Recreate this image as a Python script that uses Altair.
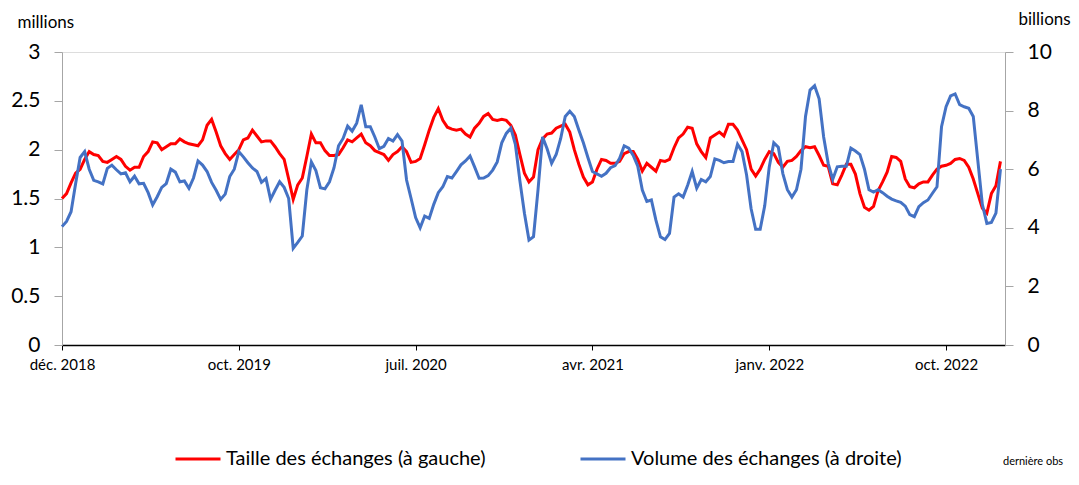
import json
import altair as alt
import pandas as pd

# ---- data (weekly, Dec. 2018 -> Jan. 2023) ----
SERIE_TAILLE = "Taille des échanges (à gauche)"
SERIE_VOLUME = "Volume des échanges (à droite)"

TAILLE = [  # millions (left axis)
    1.50, 1.55, 1.66, 1.76, 1.80, 1.90, 1.98, 1.95, 1.94, 1.88,
    1.87, 1.90, 1.93, 1.90, 1.83, 1.79, 1.82, 1.82, 1.93, 1.98,
    2.08, 2.07, 2.00, 2.03, 2.06, 2.06, 2.11, 2.08, 2.06, 2.05,
    2.04, 2.10, 2.25, 2.31, 2.18, 2.04, 1.96, 1.90, 1.95, 2.00,
    2.10, 2.12, 2.20, 2.14, 2.08, 2.09, 2.09, 2.03, 1.96, 1.90,
    1.70, 1.49, 1.64, 1.71, 1.93, 2.16, 2.07, 2.07, 1.99, 1.94,
    1.94, 1.95, 2.02, 2.10, 2.08, 2.12, 2.16, 2.07, 2.04, 1.99,
    1.97, 1.95, 1.89, 1.95, 1.98, 2.03, 1.98, 1.87, 1.88, 1.91,
    2.05, 2.20, 2.33, 2.42, 2.30, 2.23, 2.21, 2.20, 2.21, 2.16,
    2.13, 2.22, 2.27, 2.34, 2.37, 2.31, 2.30, 2.31, 2.30, 2.25,
    2.15, 1.95, 1.76, 1.67, 1.72, 2.00, 2.11, 2.16, 2.17, 2.22,
    2.24, 2.26, 2.18, 2.00, 1.85, 1.72, 1.64, 1.67, 1.80, 1.90,
    1.89, 1.86, 1.86, 1.88, 1.96, 1.98, 1.98, 1.90, 1.78, 1.86,
    1.82, 1.78, 1.89, 1.88, 1.90, 2.02, 2.12, 2.16, 2.23, 2.22,
    2.06, 1.98, 1.92, 2.12, 2.15, 2.18, 2.14, 2.26, 2.26, 2.20,
    2.10, 2.00, 1.80, 1.73, 1.80, 1.90, 1.98, 1.96, 1.87, 1.82,
    1.88, 1.89, 1.93, 1.99, 2.03, 2.02, 2.03, 1.94, 1.84, 1.83,
    1.65, 1.64, 1.74, 1.85, 1.85, 1.75, 1.55, 1.41, 1.38, 1.42,
    1.58, 1.67, 1.77, 1.93, 1.92, 1.88, 1.70, 1.62, 1.61, 1.65,
    1.67, 1.67, 1.74, 1.80, 1.83, 1.84, 1.86, 1.90, 1.91, 1.89,
    1.82, 1.70, 1.55, 1.40, 1.35, 1.55, 1.63, 1.88,
]

VOLUME = [  # billions (right axis)
    4.04, 4.22, 4.55, 5.50, 6.40, 6.60, 6.00, 5.62, 5.57, 5.50,
    6.03, 6.14, 5.98, 5.84, 5.88, 5.57, 5.76, 5.50, 5.52, 5.20,
    4.78, 5.06, 5.38, 5.51, 6.00, 5.90, 5.57, 5.60, 5.35, 5.70,
    6.28, 6.14, 5.92, 5.55, 5.28, 4.97, 5.15, 5.75, 6.00, 6.60,
    6.42, 6.22, 6.04, 5.92, 5.55, 5.68, 4.97, 5.28, 5.57, 5.38,
    5.00, 3.30, 3.50, 3.72, 5.29, 6.25, 5.95, 5.37, 5.33, 5.57,
    6.05, 6.80, 7.05, 7.47, 7.30, 7.57, 8.20, 7.45, 7.45, 7.10,
    6.70, 6.78, 7.05, 6.96, 7.18, 6.96, 5.63, 5.00, 4.35, 4.00,
    4.40, 4.32, 4.80, 5.20, 5.40, 5.75, 5.70, 5.92, 6.15, 6.28,
    6.45, 6.08, 5.69, 5.70, 5.78, 5.97, 6.25, 6.90, 7.22, 7.40,
    6.85, 5.60, 4.50, 3.58, 3.70, 5.30, 7.10, 6.70, 6.20, 6.50,
    7.05, 7.80, 7.98, 7.80, 7.34, 6.90, 6.40, 5.92, 5.84, 5.76,
    5.86, 6.05, 6.12, 6.37, 6.80, 6.72, 6.47, 6.10, 5.29, 4.90,
    4.95, 4.26, 3.69, 3.60, 3.81, 5.05, 5.16, 5.05, 5.45, 5.92,
    5.35, 5.65, 5.57, 5.75, 6.35, 6.30, 6.22, 6.26, 6.26, 6.85,
    6.60, 5.80, 4.65, 3.95, 3.95, 4.75, 6.08, 6.90, 6.75, 5.85,
    5.30, 5.05, 5.30, 6.00, 7.80, 8.70, 8.85, 8.40, 7.10, 6.20,
    5.65, 6.08, 6.10, 6.10, 6.72, 6.62, 6.50, 6.00, 5.30, 5.22,
    5.30, 5.20, 5.08, 4.98, 4.92, 4.87, 4.74, 4.45, 4.38, 4.72,
    4.86, 4.95, 5.18, 5.40, 7.45, 8.13, 8.50, 8.57, 8.20, 8.13,
    8.08, 7.80, 6.30, 4.80, 4.15, 4.18, 4.50, 6.00,
]

SEMAINES = list(range(len(TAILLE)))

TICK_POS = [0, 39, 78, 117, 156, 195]
TICK_LABELS = ["déc. 2018", "oct. 2019", "juil. 2020", "avr. 2021", "janv. 2022", "oct. 2022"]

LEFT_TICKS = [0, 0.5, 1, 1.5, 2, 2.5, 3]
RIGHT_TICKS = [0, 2, 4, 6, 8, 10]

NOTE = "dernière obs"

RED = "#ff0000"
BLUE = "#4472c4"
FONT = "Lato"

df = pd.DataFrame({
    "semaine": SEMAINES + SEMAINES,
    "serie": [SERIE_TAILLE] * len(TAILLE) + [SERIE_VOLUME] * len(VOLUME),
    "valeur": TAILLE + VOLUME,
})

label_expr = f"{json.dumps(TICK_LABELS, ensure_ascii=False)}[indexof({json.dumps(TICK_POS)}, datum.value)]"

x_enc = alt.X(
    "semaine:Q",
    scale=alt.Scale(domain=[0, 208], nice=False, zero=False),
    axis=alt.Axis(
        values=TICK_POS, labelExpr=label_expr, title=None, grid=False,
        domainColor="#000000", domainWidth=1.5, tickColor="#000000", tickSize=5,
        labelFontSize=15, labelFont=FONT, labelColor="#000000", labelPadding=7,
        labelFlush=False, labelOverlap=False,
    ),
)

color_enc = alt.Color(
    "serie:N",
    scale=alt.Scale(domain=[SERIE_TAILLE, SERIE_VOLUME], range=[RED, BLUE]),
    legend=alt.Legend(
        title=None, orient="none", legendX=112, legendY=383, direction="horizontal",
        symbolType="stroke", symbolStrokeWidth=3, symbolSize=2025,
        labelFontSize=20, labelFont=FONT, labelColor="#000000", labelOffset=4,
        columnPadding=88, padding=0, labelLimit=400,
    ),
)

red = alt.Chart(df).transform_filter(
    alt.datum.serie == SERIE_TAILLE
).mark_line(strokeWidth=3).encode(
    x=x_enc,
    y=alt.Y(
        "valeur:Q",
        scale=alt.Scale(domain=[0, 3], nice=False),
        axis=alt.Axis(
            orient="left", values=LEFT_TICKS, format=".1~f", grid=False,
            domainColor="#a6a6a6", tickColor="#a6a6a6", tickSize=8,
            labelFontSize=21, labelFont=FONT, labelColor="#000000", labelPadding=14,
            title="millions", titleAngle=0, titleX=-45, titleY=-30, titleAlign="left",
            titleBaseline="middle", titleFontSize=17, titleFont=FONT,
            titleFontWeight="normal", titleColor="#000000",
        ),
    ),
    color=color_enc,
)

blue = alt.Chart(df).transform_filter(
    alt.datum.serie == SERIE_VOLUME
).mark_line(strokeWidth=3).encode(
    x=x_enc,
    y=alt.Y(
        "valeur:Q",
        scale=alt.Scale(domain=[0, 10], nice=False),
        axis=alt.Axis(
            orient="right", values=RIGHT_TICKS, format="d", grid=False,
            domainColor="#a6a6a6", tickColor="#a6a6a6", tickSize=8,
            labelFontSize=21, labelFont=FONT, labelColor="#000000", labelPadding=14,
            title="billions", titleAngle=0, titleX=13, titleY=-33, titleAlign="left",
            titleBaseline="middle", titleFontSize=17, titleFont=FONT,
            titleFontWeight="normal", titleColor="#000000",
        ),
    ),
    color=color_enc,
)

note = alt.Chart(pd.DataFrame({"note": [NOTE]})).mark_text(
    align="left", baseline="middle", fontSize=11, font=FONT, color="#000000"
).encode(
    x=alt.value(941), y=alt.value(410), text="note:N"
)

chart = alt.layer(red, blue, note).resolve_scale(y="independent").properties(
    width=943,
    height=293,
    autosize=alt.AutoSizeParams(type="none"),
    padding={"left": 54, "top": 44, "right": 66, "bottom": 127},
).configure_view(stroke=None).configure(font=FONT)

chart.save("out.html", embed_options={"renderer": "svg", "actions": False})
